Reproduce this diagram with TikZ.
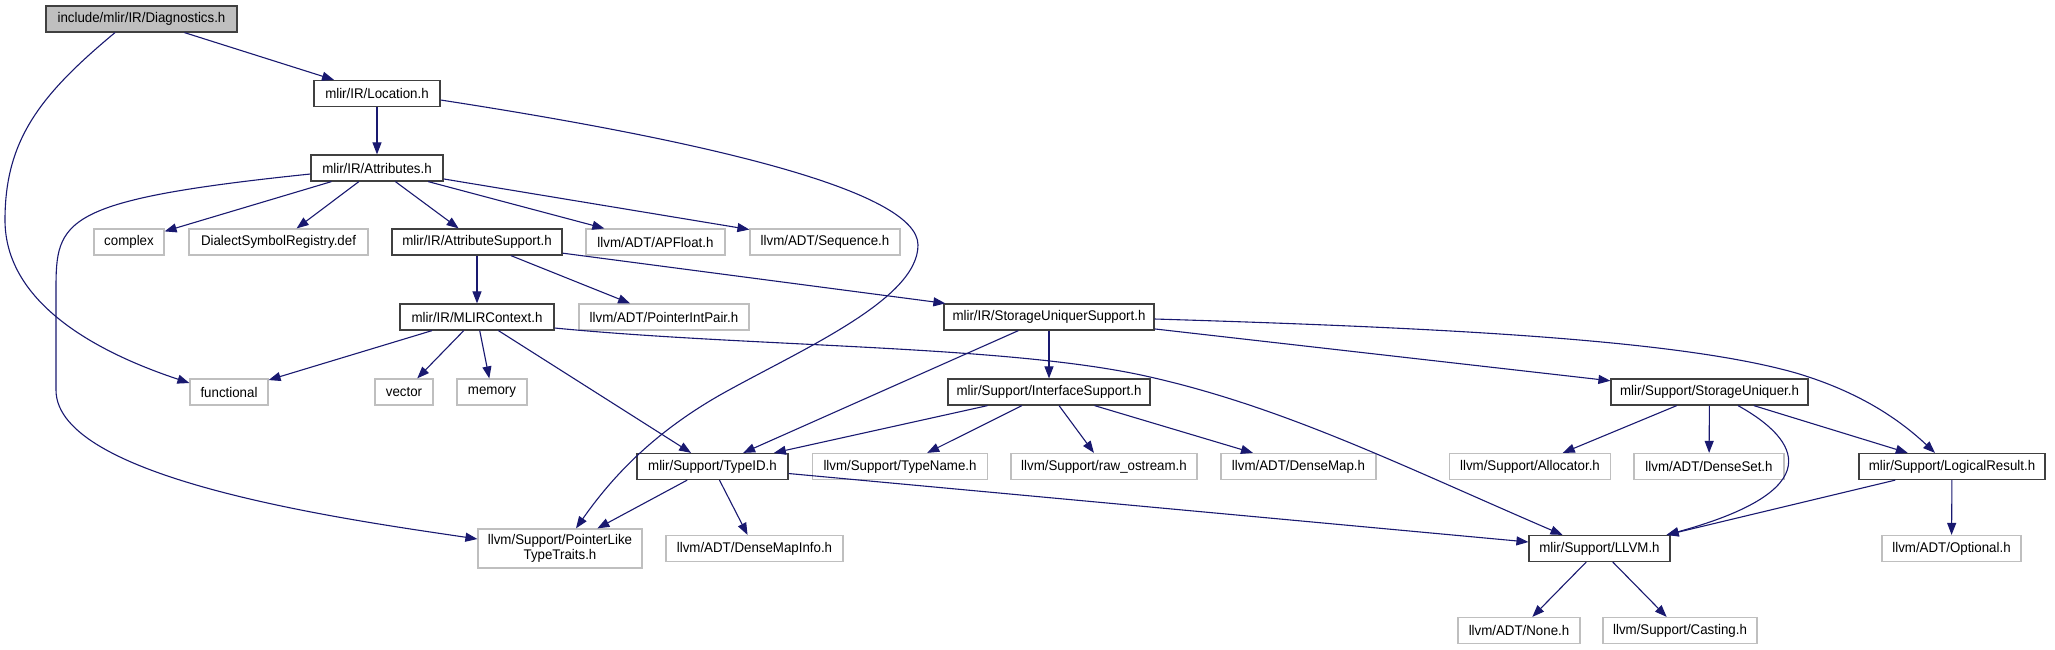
\documentclass[tikz,border=0pt]{standalone}
\usepackage{fontspec}
\setmainfont{Liberation Sans}[FakeStretch=0.95]
\usetikzlibrary{arrows.meta}
\definecolor{midblue}{HTML}{191970}
\definecolor{greyA}{HTML}{BFBFBF}
\definecolor{greyB}{HTML}{404040}
\tikzset{
 hdr/.style={draw=greyB,line width=1.2pt,minimum height=26pt,inner sep=0pt,font=\fontsize{14}{15.5}\selectfont},
 sys/.style={hdr,draw=greyA},
 dep/.style={draw=midblue,line width=1.1pt,-{Triangle[length=12pt,width=9pt,fill=midblue]}}
}
\begin{document}
\begin{tikzpicture}[x=1pt,y=-1pt]
 \useasboundingbox (0,0) rectangle (2055,649);
 \node[hdr,fill=greyA,minimum width=191pt] (diag) at (141.5,19) {include/mlir/IR/Diagnostics.h};
 \node[hdr,minimum width=126pt] (loc) at (377,93.5) {mlir/IR/Location.h};
 \node[hdr,minimum width=132pt] (attr) at (377,168) {mlir/IR/Attributes.h};
 \node[sys,minimum width=70pt] (cplx) at (129,242) {complex};
 \node[sys,minimum width=179pt] (dsr) at (278.5,242) {DialectSymbolRegistry.def};
 \node[hdr,minimum width=170pt] (asup) at (477,242) {mlir/IR/AttributeSupport.h};
 \node[sys,minimum width=139pt] (apf) at (655.5,242) {llvm/ADT/APFloat.h};
 \node[sys,minimum width=150pt] (seq) at (825,242) {llvm/ADT/Sequence.h};
 \node[hdr,minimum width=154pt] (ctx) at (477,317) {mlir/IR/MLIRContext.h};
 \node[sys,minimum width=170pt] (pip) at (664,317) {llvm/ADT/PointerIntPair.h};
 \node[hdr,minimum width=210pt] (susup) at (1049,317) {mlir/IR/StorageUniquerSupport.h};
 \node[sys,minimum width=78pt] (func) at (229,392) {functional};
 \node[sys,minimum width=58pt] (vec) at (404,392) {vector};
 \node[sys,minimum width=70pt] (mem) at (492,392) {memory};
 \node[hdr,minimum width=202pt] (ifsup) at (1049,392) {mlir/Support/InterfaceSupport.h};
 \node[hdr,minimum width=197pt] (suniq) at (1709.5,392) {mlir/Support/StorageUniquer.h};
 \node[hdr,minimum width=151pt] (tid) at (712.5,466.5) {mlir/Support/TypeID.h};
 \node[sys,minimum width=175pt] (tname) at (900,466.5) {llvm/Support/TypeName.h};
 \node[sys,minimum width=186pt] (raw) at (1104,466.5) {llvm/Support/raw\_ostream.h};
 \node[sys,minimum width=155pt] (dmap) at (1298.5,466.5) {llvm/ADT/DenseMap.h};
 \node[sys,minimum width=161pt] (alloc) at (1530,466.5) {llvm/Support/Allocator.h};
 \node[sys,minimum width=150pt] (dset) at (1709,466.5) {llvm/ADT/DenseSet.h};
 \node[hdr,minimum width=186pt] (lres) at (1952,466.5) {mlir/Support/LogicalResult.h};
 \node[sys,minimum width=164pt,minimum height=39pt,align=center] (plt) at (560,548.5) {llvm/Support/PointerLike\\TypeTraits.h};
 \node[sys,minimum width=177pt] (dmi) at (754.5,548.5) {llvm/ADT/DenseMapInfo.h};
 \node[hdr,minimum width=141pt] (llvm) at (1599.5,548.5) {mlir/Support/LLVM.h};
 \node[sys,minimum width=139pt] (opt) at (1951.5,548.5) {llvm/ADT/Optional.h};
 \node[sys,minimum width=122pt] (none) at (1519,630.5) {llvm/ADT/None.h};
 \node[sys,minimum width=154pt] (cast) at (1680,630.5) {llvm/Support/Casting.h};
 \draw[dep] (diag) -- (loc);
 \draw[dep] ([xshift=-26.5pt]diag.south) .. controls (40,95) and (5,140) .. (5,220) .. controls (5,300) and (90,350) .. ([yshift=9pt]func.west);
 \draw[dep] (loc) -- (attr);
 \draw[dep] ([yshift=-6.5pt]loc.east) .. controls (700,140) and (918,190) .. (918,245) .. controls (918,300) and (800,350) .. (720,395) .. controls (650,435) and (610,480) .. ([xshift=16pt]plt.north);
 \draw[dep] ([yshift=-6pt]attr.west) .. controls (60,200) and (56,220) .. (56,290) -- (56,390) .. controls (56,480) and (350,520) .. ([yshift=9.5pt]plt.west);
 \draw[dep] (attr) -- (cplx);
 \draw[dep] (attr) -- (dsr);
 \draw[dep] (attr) -- (asup);
 \draw[dep] (attr) -- (apf);
 \draw[dep] (attr) -- (seq);
 \draw[dep] (asup) -- (ctx);
 \draw[dep] (asup) -- (pip);
 \draw[dep] (asup) -- (susup);
 \draw[dep] (ctx) -- (func);
 \draw[dep] (ctx) -- (vec);
 \draw[dep] (ctx) -- (mem);
 \draw[dep] (ctx) -- (tid);
 \draw[dep] ([yshift=-11pt]ctx.east) .. controls (750,347) and (1000,345) .. (1141,375) .. controls (1280,405) and (1400,465) .. ([xshift=-37pt]llvm.north);
 \draw[dep] (susup) -- (tid);
 \draw[dep] (susup) -- (ifsup);
 \draw[dep] (susup) -- (suniq);
 \draw[dep] ([yshift=-2pt]susup.east) .. controls (1450,328) and (1680,340) .. (1796,373) .. controls (1860,392) and (1900,420) .. ([xshift=-17pt]lres.north);
 \draw[dep] (ifsup) -- (tid);
 \draw[dep] (ifsup) -- (tname);
 \draw[dep] (ifsup) -- (raw);
 \draw[dep] (ifsup) -- (dmap);
 \draw[dep] (tid) -- (plt);
 \draw[dep] (tid) -- (dmi);
 \draw[dep] (tid) -- (llvm);
 \draw[dep] (suniq) -- (alloc);
 \draw[dep] (suniq) -- (dset);
 \draw[dep] ([xshift=28.5pt]suniq.south) .. controls (1800,440) and (1830,490) .. ([xshift=-4pt]llvm.north east);
 \draw[dep] (suniq) -- (lres);
 \draw[dep] (lres) -- ([xshift=-4pt]llvm.north east);
 \draw[dep] (lres) -- (opt);
 \draw[dep] (llvm) -- (none);
 \draw[dep] (llvm) -- (cast);
\end{tikzpicture}
\end{document}
